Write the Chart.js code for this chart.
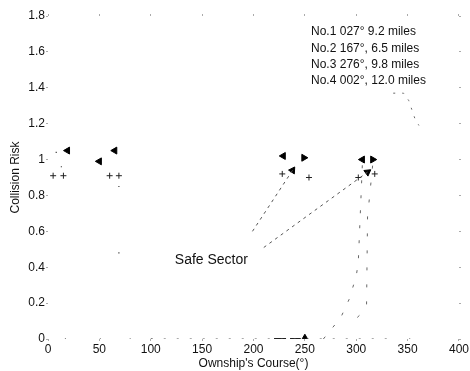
<!DOCTYPE html>
<html>
<head>
<meta charset="utf-8">
<script src="https://cdn.jsdelivr.net/npm/chart.js@4.4.1/dist/chart.umd.min.js"></script>
<style>
  html, body { margin: 0; padding: 0; background: #fff; }
</style>
</head>
<body>
<canvas id="risk-chart" width="470" height="371"></canvas>
<script>
// axis ticks
const xTicks = [0, 50, 100, 150, 200, 250, 300, 350, 400];
const yTicks = [0, 0.2, 0.4, 0.6, 0.8, 1, 1.2, 1.4, 1.6, 1.8];

// marks still visible on the scan (course in deg, collision risk)
const leftTriCourse = [19, 65, 229, 306];
const leftTriRisk = [1.05, 1.05, 1.02, 1.0];
const rightTriCourse = [249, 316];
const rightTriRisk = [1.01, 1.0];
const downTriCourse = [50];
const downTriRisk = [0.99];
const crossCourse = [5, 15, 60, 69, 228, 254, 302, 318];
const crossRisk = [0.91, 0.91, 0.91, 0.91, 0.92, 0.9, 0.9, 0.92];
const speckCourse = [8, 13, 69, 69, 17, 51, 80, 101, 352];
const speckRisk = [1.04, 0.96, 0.85, 0.48, 0, 0, 0, 0, 0];

// rising branches at the end of the safe sector
const riseACourse = [268, 285, 293, 300, 302, 306];
const riseARisk = [0, 0.12, 0.22, 0.35, 0.43, 0.98];
const riseBCourse = [301, 310, 311, 316];
const riseBRisk = [0.12, 0.17, 0.68, 0.97];
// falling branch at upper right
const fallCourse = [336, 346, 351, 354, 357, 361];
const fallRisk = [1.37, 1.37, 1.33, 1.28, 1.23, 1.19];
// zero-risk stretch
const zeroCourse = [100, 330];
const zeroRisk = [0, 0];
const zeroBoldCourse = [220, 246];
const zeroBoldRisk = [0, 0];

// "Safe Sector" pointers
const arrow1Course = [199, 238];
const arrow1Risk = [0.6, 0.94];
const arrow2Course = [210, 311];
const arrow2Risk = [0.51, 0.93];

// target ship notes
const noteLines = ['No.1 027\u00b0 9.2 miles', 'No.2 167\u00b0, 6.5 miles', 'No.3 276\u00b0, 9.8 miles', 'No.4 002\u00b0, 12.0 miles'];
const noteCourse = 256;
const noteRisk = [1.71, 1.62, 1.53, 1.44];

const pts = (xs, ys) => xs.map((x, i) => ({ x, y: ys[i] }));
const FONT = '"Liberation Sans", Arial, sans-serif';

const notesPlugin = {
  id: 'notes',
  afterDatasetsDraw(chart) {
    const { ctx, scales: { x, y } } = chart;
    ctx.save();
    ctx.fillStyle = '#111';
    ctx.textBaseline = 'middle';
    ctx.font = '12px ' + FONT;
    noteLines.forEach((t, i) => ctx.fillText(t, x.getPixelForValue(noteCourse), y.getPixelForValue(noteRisk[i])));
    ctx.font = '14px ' + FONT;
    ctx.textAlign = 'center';
    ctx.fillText('Safe Sector', x.getPixelForValue(159), y.getPixelForValue(0.44));
    ctx.restore();
  }
};

const line = (xs, ys, extra) => Object.assign({
  data: pts(xs, ys), showLine: true, pointRadius: 0, borderColor: '#333', borderWidth: 1, fill: false
}, extra);
const marks = (xs, ys, extra) => Object.assign({
  data: pts(xs, ys), showLine: false, pointBackgroundColor: '#000', pointBorderColor: '#000'
}, extra);

const tickAxis = (extra) => Object.assign({
  border: { display: false },
  grid: { drawOnChartArea: false, tickLength: 2, color: '#aaa' },
  ticks: { display: false }
}, extra);

new Chart(document.getElementById('risk-chart'), {
  type: 'scatter',
  data: {
    datasets: [
      line(zeroCourse, zeroRisk, { borderDash: [2, 11], borderColor: '#555' }),
      line(zeroBoldCourse, zeroBoldRisk, { borderWidth: 2, borderColor: '#222', borderDash: [12, 4] }),
      marks([250], [0.01], { pointStyle: 'triangle', pointRadius: 3 }),
      line(riseACourse, riseARisk, { borderDash: [3, 12], borderColor: '#666' }),
      line(riseBCourse, riseBRisk, { borderDash: [3, 14], borderColor: '#666' }),
      line(fallCourse, fallRisk, { borderDash: [2, 7], borderColor: '#666' }),
      line(arrow1Course, arrow1Risk, { borderDash: [3, 4], borderColor: '#555' }),
      line(arrow2Course, arrow2Risk, { borderDash: [3, 4], borderColor: '#555' }),
      marks([arrow1Course[1]], [arrow1Risk[1]], { pointStyle: 'triangle', pointRadius: 4, rotation: 33 }),
      marks([arrow2Course[1]], [arrow2Risk[1]], { pointStyle: 'triangle', pointRadius: 4, rotation: 54 }),
      marks(leftTriCourse, leftTriRisk, { pointStyle: 'triangle', pointRadius: 4, rotation: -90 }),
      marks(rightTriCourse, rightTriRisk, { pointStyle: 'triangle', pointRadius: 4, rotation: 90 }),
      marks(downTriCourse, downTriRisk, { pointStyle: 'triangle', pointRadius: 4, rotation: 150 }),
      marks(crossCourse, crossRisk, { pointStyle: 'cross', pointRadius: 3, pointBorderWidth: 1, pointBorderColor: '#222' }),
      marks(speckCourse, speckRisk, { pointStyle: 'rect', pointRadius: 0.8, pointBackgroundColor: '#333', pointBorderWidth: 0 })
    ]
  },
  options: {
    responsive: false,
    animation: false,
    layout: { padding: { top: 16, right: 10, left: 0, bottom: 0 } },
    plugins: { legend: { display: false }, tooltip: { enabled: false } },
    scales: {
      x: {
        type: 'linear', min: 0, max: 400,
        afterBuildTicks: s => { s.ticks = xTicks.map(v => ({ value: v })); },
        afterFit: s => { s.height = 32; },
        border: { display: false },
        grid: { drawOnChartArea: false, tickLength: 2, color: '#aaa' },
        ticks: { color: '#111', padding: 1, font: { family: FONT, size: 12 }, maxRotation: 0, callback: v => String(v) },
        title: { display: true, text: "Ownship's Course(\u00b0)", color: '#111', font: { family: FONT, size: 12 }, padding: { top: 0, bottom: 0 } }
      },
      y: {
        type: 'linear', min: 0, max: 1.8,
        afterBuildTicks: s => { s.ticks = yTicks.map(v => ({ value: v })); },
        afterFit: s => { s.width = 48; },
        border: { display: false },
        grid: { drawOnChartArea: false, tickLength: 2, color: '#aaa' },
        ticks: { color: '#111', padding: 1, font: { family: FONT, size: 12 }, callback: v => String(v) },
        title: { display: true, text: 'Collision Risk', color: '#111', font: { family: FONT, size: 12 }, padding: { top: 8, bottom: 0 } }
      },
      x2: tickAxis({
        type: 'linear', position: 'top', min: 0, max: 400,
        afterBuildTicks: s => { s.ticks = xTicks.map(v => ({ value: v })); },
        afterFit: s => { s.height = 0; }
      }),
      y2: tickAxis({
        type: 'linear', position: 'right', min: 0, max: 1.8,
        afterBuildTicks: s => { s.ticks = yTicks.map(v => ({ value: v })); },
        afterFit: s => { s.width = 0; }
      })
    }
  },
  plugins: [notesPlugin]
});
</script>
</body>
</html>
